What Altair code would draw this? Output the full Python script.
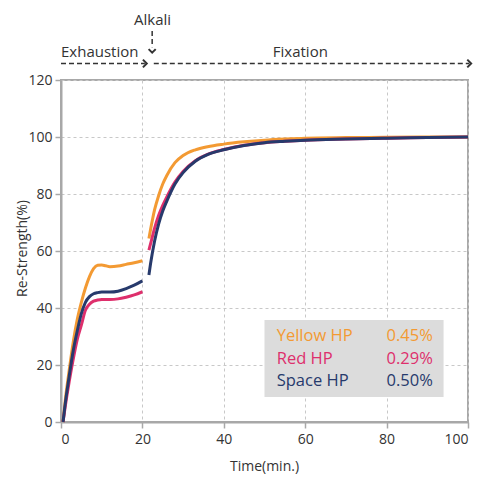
import altair as alt
import pandas as pd

# ---- data ----
x_seg1 = [0.5, 1, 2, 3, 4, 5, 6, 7, 8, 9, 10, 11, 12, 14, 16, 18, 20]
yellow_seg1 = [0, 7, 18, 28, 36, 42, 47, 51, 53.8, 55, 55.1, 54.8, 54.5, 54.7, 55.3, 55.9, 56.6]
red_seg1 = [0, 5, 14, 22, 29, 34, 39.2, 41.3, 42.4, 42.8, 43, 43, 43, 43.2, 43.8, 44.6, 45.7]
space_seg1 = [0, 6, 16, 25, 32, 38, 42, 44, 45, 45.4, 45.6, 45.6, 45.6, 45.9, 46.8, 48, 49.5]

x_seg2 = [21.6, 22, 23, 24, 25, 26, 28, 30, 33, 36, 40, 45, 50, 55, 60, 70, 80, 90, 100]
yellow_seg2 = [64.4, 67.5, 74.5, 79.5, 83.5, 86.5, 91, 93.5, 95.5, 96.6, 97.5, 98.3, 98.9, 99.3, 99.6, 99.8, 99.9, 100, 100]
red_seg2 = [60.3, 62.5, 68, 72.5, 76, 79, 84.2, 87.9, 91.7, 93.9, 95.6, 97.1, 98, 98.5, 98.9, 99.3, 99.6, 99.8, 100]
space_seg2 = [51.6, 55.5, 63.5, 69.5, 74, 77.5, 83.5, 87.5, 91.5, 93.8, 95.5, 97, 98, 98.5, 98.9, 99.3, 99.6, 99.8, 100]

series_names = ["Yellow HP", "Red HP", "Space HP"]
series_pct = ["0.45%", "0.29%", "0.50%"]
series_colors = ["#f39a33", "#de2f6c", "#273a6c"]

x_ticks = [0, 20, 40, 60, 80, 100]
y_ticks = [0, 20, 40, 60, 80, 100, 120]

FONT = "Open Sans"
INK = "#333333"

rows = []
for name, s1, s2 in zip(series_names,
                        [yellow_seg1, red_seg1, space_seg1],
                        [yellow_seg2, red_seg2, space_seg2]):
    for xv, yv in zip(x_seg1, s1):
        rows.append({"t": xv, "v": yv, "series": name, "seg": name + "1"})
    for xv, yv in zip(x_seg2, s2):
        rows.append({"t": xv, "v": yv, "series": name, "seg": name + "2"})
df = pd.DataFrame(rows)

xs = alt.Scale(domain=[0, 100], nice=False, zero=False)
ys = alt.Scale(domain=[0, 120], nice=False)

lines = alt.Chart(df).mark_line(strokeWidth=3, interpolate="monotone").encode(
    x=alt.X("t:Q", scale=xs,
            axis=alt.Axis(values=x_ticks, title="Time(min.)", titleX=203, titleY=44,
                          titleBaseline="middle", labelPadding=4)),
    y=alt.Y("v:Q", scale=ys,
            axis=alt.Axis(values=y_ticks, title="Re-Strength(%)", titleX=-39, titleY=168,
                          titleAngle=-90, titleAlign="center", titleBaseline="middle",
                          labelPadding=3)),
    color=alt.Color("series:N", scale=alt.Scale(domain=series_names, range=series_colors),
                    legend=None),
    detail="seg:N",
    order=alt.Order("t:Q"),
)

# legend box
box_df = pd.DataFrame({"x1": [50], "x2": [94], "y1": [8.8], "y2": [35.8]})
box = alt.Chart(box_df).mark_rect(color="#dcdcdc").encode(
    x=alt.X("x1:Q", scale=xs), x2="x2:Q", y=alt.Y("y1:Q", scale=ys), y2="y2:Q")

leg_df = pd.DataFrame({"name": series_names, "pct": series_pct,
                       "ly": [30.2, 22.1, 14.4], "nx": [53] * 3, "px": [80] * 3})
leg_names = alt.Chart(leg_df).mark_text(align="left", baseline="middle", font=FONT,
                                        fontSize=16.5).encode(
    x=alt.X("nx:Q", scale=xs), y=alt.Y("ly:Q", scale=ys), text="name:N",
    color=alt.Color("name:N", scale=alt.Scale(domain=series_names, range=series_colors),
                    legend=None))
leg_pcts = alt.Chart(leg_df).mark_text(align="left", baseline="middle", font=FONT,
                                       fontSize=16.5).encode(
    x=alt.X("px:Q", scale=xs), y=alt.Y("ly:Q", scale=ys), text="pct:N",
    color=alt.Color("name:N", scale=alt.Scale(domain=series_names, range=series_colors),
                    legend=None))

# top annotations (phase arrows)
arrow_df = pd.DataFrame({"x1": [0, 22.8, 22.4], "x2": [20.6, 100.3, 22.4],
                         "y1": [125.8, 125.8, 137.2], "y2": [125.8, 125.8, 131.5]})
arrows = alt.Chart(arrow_df).mark_rule(color=INK, strokeWidth=1.5, strokeDash=[5, 3]).encode(
    x=alt.X("x1:Q", scale=xs), x2="x2:Q", y=alt.Y("y1:Q", scale=ys), y2="y2:Q")

heads_r = pd.DataFrame({"hx": [20.6, 100.3], "hy": [125.8, 125.8]})
chev_r = alt.Chart(heads_r).mark_point(shape="M-0.5,-1L0.5,0L-0.5,1", size=60, filled=False,
                                       stroke=INK, strokeWidth=2, opacity=1).encode(
    x=alt.X("hx:Q", scale=xs), y=alt.Y("hy:Q", scale=ys))
heads_d = pd.DataFrame({"hx": [22.4], "hy": [130.2]})
chev_d = alt.Chart(heads_d).mark_point(shape="M-1,-0.5L0,0.5L1,-0.5", size=50, filled=False,
                                       stroke=INK, strokeWidth=2, opacity=1).encode(
    x=alt.X("hx:Q", scale=xs), y=alt.Y("hy:Q", scale=ys))

lab_df = pd.DataFrame({"txt": ["Exhaustion", "Fixation", "Alkali"],
                       "lx": [0, 58.8, 22.5], "ly": [129.9, 129.9, 141.0],
                       "al": ["left", "center", "center"]})
labs_left = alt.Chart(lab_df[lab_df.al == "left"]).mark_text(
    align="left", baseline="middle", font=FONT, fontSize=15, color=INK).encode(
    x=alt.X("lx:Q", scale=xs), y=alt.Y("ly:Q", scale=ys), text="txt:N")
labs_center = alt.Chart(lab_df[lab_df.al == "center"]).mark_text(
    align="center", baseline="middle", font=FONT, fontSize=15, color=INK).encode(
    x=alt.X("lx:Q", scale=xs), y=alt.Y("ly:Q", scale=ys), text="txt:N")

chart = alt.layer(box, lines, leg_names, leg_pcts, arrows, chev_r, chev_d,
                  labs_left, labs_center).properties(
    width=407, height=342,
    autosize=alt.AutoSizeParams(type="none"),
    padding={"left": 53, "top": 72, "right": 6, "bottom": 58},
).configure_view(
    stroke="#a8a8a8", strokeWidth=2
).configure_axis(
    labelFont=FONT, labelFontSize=14, labelColor=INK,
    titleFont=FONT, titleFontSize=14, titleFontWeight="normal", titleColor=INK,
    domainColor="#a8a8a8", domainWidth=2, tickColor="#a8a8a8", tickWidth=1.5, tickSize=6,
    gridColor="#c8c8c8", gridDash=[3, 3], gridWidth=1,
)

chart.save("out.html", embed_options={"renderer": "svg", "actions": False})
